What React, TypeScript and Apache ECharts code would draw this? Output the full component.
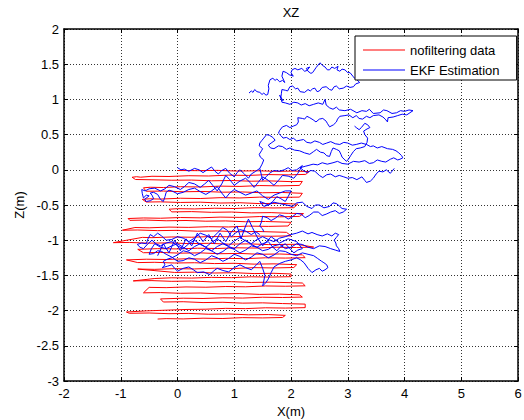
import React, { useEffect, useRef } from 'react';
import * as echarts from 'echarts';

const FONT = '"Liberation Sans", Arial, Helvetica, sans-serif';

const chartTitle = 'XZ';
const xName = 'X(m)';
const yName = 'Z(m)';
const seriesNames = ['nofiltering data', 'EKF Estimation'];
const xRange = [-2, 6];
const yRange = [-3, 2];

// raw (unfiltered) measurement path: [x, z]
const rawPath: number[][] = [
  [0.0,-0.01],[0.35,-0.012],[0.7,-0.008],[1.05,-0.018],[1.4,-0.014],[1.75,-0.022],[2.05,-0.018],[2.32,-0.025],
  [2.26,-0.065],[1.95,-0.072],[1.6,-0.068],[1.25,-0.08],[0.9,-0.076],[0.55,-0.088],[0.2,-0.084],[-0.15,-0.095],[-0.45,-0.092],[-0.65,-0.105],[-0.72,-0.098],[-0.8,-0.106],
  [-0.74,-0.138],[-0.45,-0.142],[-0.1,-0.148],[0.25,-0.146],[0.6,-0.156],[0.95,-0.152],[1.3,-0.162],[1.65,-0.158],[2.0,-0.168],[2.2,-0.165],
  [2.15,-0.222],[1.8,-0.228],[1.45,-0.224],[1.1,-0.236],[0.75,-0.232],[0.4,-0.244],[0.05,-0.24],[-0.25,-0.252],[-0.48,-0.248],[-0.6,-0.256],
  [-0.55,-0.305],[-0.25,-0.302],[0.1,-0.312],[0.45,-0.308],[0.8,-0.318],[1.15,-0.315],[1.5,-0.326],[1.85,-0.322],[2.2,-0.334],
  [2.15,-0.388],[1.8,-0.392],[1.45,-0.388],[1.1,-0.4],[0.75,-0.396],[0.4,-0.408],[0.05,-0.404],[-0.3,-0.416],[-0.5,-0.412],[-0.62,-0.42],
  [-0.55,-0.458],[-0.3,-0.455],[0.05,-0.464],[0.4,-0.46],[0.75,-0.472],[1.1,-0.468],[1.45,-0.48],[1.8,-0.476],[2.12,-0.488],
  [2.05,-0.538],[1.7,-0.542],[1.35,-0.538],[1.0,-0.55],[0.65,-0.546],[0.3,-0.556],[0.0,-0.552],[-0.15,-0.56],
  [-0.1,-0.598],[0.25,-0.594],[0.6,-0.604],[0.95,-0.6],[1.3,-0.612],[1.65,-0.608],[1.95,-0.618],[2.22,-0.622],
  [2.15,-0.662],[1.8,-0.668],[1.45,-0.664],[1.1,-0.676],[0.75,-0.672],[0.4,-0.682],[0.05,-0.678],[-0.3,-0.688],[-0.6,-0.684],[-0.87,-0.692],
  [-0.84,-0.718],[-0.55,-0.714],[-0.2,-0.724],[0.15,-0.72],[0.5,-0.73],[0.85,-0.726],[1.2,-0.738],[1.55,-0.734],[2.0,-0.746],
  [1.95,-0.798],[1.6,-0.804],[1.25,-0.8],[0.9,-0.812],[0.55,-0.808],[0.2,-0.818],[-0.15,-0.814],[-0.5,-0.824],[-0.75,-0.82],
  [-0.97,-0.858],[-0.7,-0.855],[-0.35,-0.864],[0.0,-0.86],[0.35,-0.872],[0.7,-0.868],[1.05,-0.88],[1.4,-0.876],[1.92,-0.888],
  [2.0,-0.938],[1.65,-0.944],[1.3,-0.94],[0.95,-0.952],[0.6,-0.948],[0.25,-0.958],[-0.1,-0.954],[-0.45,-0.964],[-0.62,-0.96],
  [-1.13,-1.035],[-0.85,-1.032],[-0.5,-1.042],[-0.15,-1.038],[0.2,-1.048],[0.55,-1.044],[0.9,-1.056],[1.25,-1.052],[1.6,-1.062],[2.1,-1.058],
  [2.4,-1.098],[2.1,-1.104],[1.75,-1.1],[1.4,-1.112],[1.05,-1.108],[0.7,-1.118],[0.35,-1.114],[0.0,-1.124],[-0.35,-1.12],[-0.7,-1.13],
  [-0.6,-1.178],[-0.3,-1.174],[0.05,-1.184],[0.4,-1.18],[0.75,-1.192],[1.1,-1.188],[1.45,-1.2],[1.8,-1.196],[2.2,-1.208],
  [2.25,-1.248],[1.9,-1.254],[1.55,-1.25],[1.2,-1.262],[0.85,-1.258],[0.5,-1.268],[0.15,-1.264],[-0.2,-1.274],[-0.55,-1.27],[-0.9,-1.28],
  [-0.7,-1.318],[-0.4,-1.314],[-0.05,-1.324],[0.3,-1.32],[0.65,-1.332],[1.0,-1.328],[1.35,-1.34],[1.7,-1.336],[2.1,-1.348],
  [2.05,-1.388],[1.7,-1.394],[1.35,-1.39],[1.0,-1.402],[0.65,-1.398],[0.3,-1.408],[-0.05,-1.404],[-0.4,-1.414],[-0.7,-1.41],
  [-0.05,-1.458],[0.3,-1.454],[0.65,-1.466],[1.0,-1.462],[1.35,-1.474],[1.7,-1.47],[2.0,-1.48],
  [2.0,-1.518],[1.65,-1.524],[1.3,-1.52],[0.95,-1.532],[0.6,-1.528],[0.25,-1.538],[-0.1,-1.534],[-0.4,-1.544],
  [-0.78,-1.578],[-0.45,-1.574],[-0.1,-1.584],[0.25,-1.58],[0.6,-1.592],[0.95,-1.588],[1.3,-1.6],[1.65,-1.596],[2.2,-1.608],
  [2.25,-1.648],[1.9,-1.654],[1.55,-1.65],[1.2,-1.662],[0.85,-1.658],[0.5,-1.668],[0.15,-1.664],[-0.2,-1.674],[-0.5,-1.67],
  [-0.6,-1.748],[-0.3,-1.744],[0.05,-1.754],[0.4,-1.75],[0.75,-1.762],[1.1,-1.758],[1.45,-1.77],[1.8,-1.766],[2.15,-1.776],
  [2.2,-1.808],[1.85,-1.814],[1.5,-1.81],[1.15,-1.822],[0.8,-1.818],[0.45,-1.828],[0.1,-1.824],[-0.3,-1.834],
  [-0.25,-1.878],[0.1,-1.874],[0.45,-1.886],[0.8,-1.882],[1.15,-1.894],[1.5,-1.89],[1.85,-1.9],[2.25,-1.908],
  [2.25,-1.958],[1.9,-1.964],[1.55,-1.96],[1.2,-1.972],[0.85,-1.968],[0.5,-1.98],[0.15,-1.984],[-0.2,-1.994],[-0.55,-2.004],[-0.9,-2.02],
  [-0.85,-2.038],[-0.5,-2.034],[-0.15,-2.044],[0.2,-2.04],[0.55,-2.052],[0.9,-2.048],[1.25,-2.06],[1.6,-2.056],[1.9,-2.068],
  [1.85,-2.098],[1.5,-2.104],[1.15,-2.1],[0.8,-2.112],[0.45,-2.108],[0.1,-2.118],[-0.2,-2.114],[-0.35,-2.12],
];

// EKF estimate, upper excursion
const ekfUpper: number[][] = [
  [1.26,1.09],[1.3,1.12],[1.33,1.1],[1.36,1.14],[1.4,1.11],[1.45,1.1],[1.49,1.07],[1.52,1.09],[1.56,1.06],[1.59,1.07],[1.61,1.15],[1.6,1.2],[1.63,1.28],[1.68,1.3],[1.72,1.27],[1.75,1.29],[1.8,1.25],[1.85,1.27],[1.89,1.24],[1.84,1.33],[1.86,1.4],[1.92,1.38],[1.97,1.35],[2.04,1.33],[2.0,1.38],[2.02,1.42],[2.07,1.44],[2.12,1.42],[2.19,1.44],[2.24,1.4],[2.28,1.41],[2.33,1.46],[2.27,1.44],[2.3,1.4],[2.35,1.37],[2.38,1.38],[2.44,1.45],[2.51,1.52],[2.56,1.48],[2.6,1.46],[2.64,1.42],[2.68,1.42],[2.72,1.46],[2.77,1.44],[2.83,1.47],[2.81,1.42],[2.86,1.4],[2.9,1.43],[2.95,1.42],[3.0,1.38],[3.04,1.38],[3.09,1.33],[3.12,1.3],[3.16,1.28],[3.21,1.24],
  [3.14,1.22],[3.1,1.18],[3.04,1.17],[2.98,1.19],[2.92,1.16],[2.85,1.15],[2.8,1.19],[2.76,1.18],[2.72,1.13],[2.68,1.14],[2.62,1.18],[2.55,1.17],[2.5,1.12],[2.46,1.11],[2.42,1.16],[2.38,1.15],[2.34,1.12],[2.3,1.14],[2.24,1.1],[2.16,1.11],[2.12,1.16],[2.08,1.15],[2.03,1.19],[1.98,1.18],[1.94,1.12],[1.9,1.13],[1.84,1.14],[1.83,1.08],[1.82,1.02],[1.86,0.98],[1.8,1.06],[1.83,1.0],[1.84,0.96],
  [1.9,0.95],[1.98,0.93],[2.05,0.96],[2.12,0.95],[2.18,0.92],[2.25,0.94],[2.32,0.91],[2.4,0.93],[2.48,0.95],[2.56,0.93],[2.6,1.0],[2.62,0.92],[2.68,0.88],[2.74,0.86],[2.8,0.89],[2.85,0.85],[2.95,0.84],[3.05,0.86],[3.16,0.81],[3.25,0.84],[3.33,0.83],[3.38,0.86],[3.45,0.8],[3.57,0.81],[3.63,0.85],[3.69,0.84],[3.78,0.8],[3.86,0.81],[3.93,0.84],[4.0,0.83],[4.08,0.85],[4.15,0.84],
  [4.04,0.78],[3.96,0.79],[3.88,0.77],[3.8,0.75],[3.71,0.74],[3.7,0.68],[3.66,0.72],[3.62,0.75],[3.55,0.78],[3.45,0.77],[3.39,0.74],[3.33,0.76],[3.26,0.72],[3.2,0.73],[3.15,0.77],[3.09,0.74],[3.02,0.78],[2.95,0.77],[2.86,0.76],[2.82,0.72],[2.8,0.68],[2.75,0.64],[2.68,0.61],[2.64,0.66],[2.62,0.69],[2.56,0.73],[2.5,0.72],[2.44,0.68],[2.39,0.71],[2.33,0.74],[2.28,0.76],[2.24,0.72],[2.2,0.73],[2.12,0.74],[2.13,0.68],[2.1,0.64],[2.04,0.62],[1.98,0.6],[1.92,0.63],[1.85,0.61],[1.8,0.56],[1.78,0.52],
  [1.83,0.48],[1.86,0.45],[1.92,0.46],[1.98,0.43],[2.04,0.45],[2.1,0.41],[2.16,0.42],[2.22,0.43],[2.28,0.39],[2.35,0.38],[2.42,0.41],[2.5,0.39],[2.56,0.36],[2.63,0.38],[2.7,0.4],[2.78,0.37],[2.86,0.36],[2.93,0.39],[3.0,0.38],[3.08,0.35],[3.15,0.36],[3.24,0.38],[3.33,0.36],[3.4,0.33],[3.45,0.34],[3.52,0.31],[3.6,0.33],[3.7,0.3],[3.79,0.29],[3.85,0.27],[3.9,0.24],[3.95,0.2],[3.97,0.17],
  [3.92,0.15],[3.88,0.14],[3.81,0.17],[3.75,0.15],[3.67,0.11],[3.6,0.12],[3.52,0.14],[3.45,0.1],[3.38,0.09],[3.3,0.13],[3.2,0.11],[3.1,0.12],[3.0,0.08],[2.9,0.09],[2.82,0.12],[2.74,0.1],[2.64,0.08],[2.55,0.1],[2.47,0.07],[2.39,0.08],[2.3,0.06],[2.25,0.05],[2.16,0.03],
  [2.22,-0.01],[2.28,-0.04],[2.35,-0.01],[2.42,-0.02],[2.5,-0.08],[2.56,-0.11],[2.63,-0.07],[2.7,-0.06],[2.78,-0.1],[2.85,-0.08],[2.93,-0.1],[3.0,-0.12],[3.08,-0.11],[3.16,-0.14],[3.25,-0.1],[3.3,-0.15],[3.33,-0.18],[3.4,-0.16],[3.45,-0.12],[3.5,-0.06],[3.55,-0.02],[3.62,-0.03],[3.68,0.0],[3.75,-0.05],[3.78,-0.02],[3.82,0.02],
];

// EKF estimate, loop between the upper excursion and the start area
const ekfLoop: number[][] = [
  [1.45,0.02],[1.49,0.08],[1.52,0.14],[1.46,0.18],[1.44,0.22],[1.48,0.27],[1.5,0.3],[1.44,0.34],[1.45,0.38],[1.49,0.42],[1.52,0.45],[1.57,0.5],[1.62,0.49],[1.68,0.46],[1.72,0.42],[1.65,0.38],[1.6,0.35],[1.64,0.31],[1.7,0.3],[1.78,0.34],[1.85,0.33],[1.92,0.29],[1.98,0.31],[2.06,0.28],[2.15,0.27],[2.24,0.24],[2.33,0.22],[2.4,0.26],[2.45,0.29],[2.52,0.25],[2.58,0.24],[2.63,0.2],[2.68,0.19],[2.71,0.26],[2.74,0.31],[2.8,0.29],[2.85,0.27],[2.88,0.22],[2.9,0.18],[2.95,0.14],[2.98,0.12],[3.02,0.16],[3.05,0.2],[3.1,0.26],[3.15,0.3],[3.22,0.31],[3.3,0.33],[3.34,0.39],[3.35,0.45],[3.3,0.5],[3.28,0.55],[3.34,0.58],[3.39,0.6],[3.35,0.64],[3.3,0.66],[3.24,0.6],[3.2,0.57],[3.15,0.6],[3.12,0.62],
];

// EKF estimate, upper band near z = 0 .. -0.7
const ekfBand: number[][] = [
  [0.0,0.03],[0.06,0.0],[0.12,0.01],[0.2,-0.02],[0.3,0.02],[0.38,0.0],[0.45,-0.04],[0.52,0.0],[0.6,0.04],[0.66,-0.02],[0.72,-0.06],[0.78,-0.01],[0.85,0.02],[0.92,-0.05],[1.0,-0.1],[1.05,-0.04],[1.1,0.0],[1.18,-0.06],[1.25,-0.12],[1.3,-0.06],[1.38,-0.02],[1.45,0.02],[1.48,-0.08],[1.5,-0.15],[1.56,-0.1],[1.62,-0.05],[1.7,-0.01],[1.8,-0.02],[1.88,0.0],[1.95,0.03],[2.02,-0.01],[2.1,0.0],[2.2,0.06],
  [2.12,-0.05],[2.05,-0.12],[1.95,-0.09],[1.85,-0.08],[1.78,-0.15],[1.7,-0.22],[1.6,-0.15],[1.5,-0.1],[1.42,-0.18],[1.35,-0.25],[1.28,-0.18],[1.2,-0.12],[1.1,-0.16],[1.0,-0.22],[0.92,-0.14],[0.85,-0.08],[0.78,-0.2],[0.7,-0.3],[0.62,-0.22],[0.55,-0.15],[0.48,-0.2],[0.4,-0.25],[0.3,-0.2],[0.2,-0.18],[0.12,-0.24],[0.05,-0.28],[-0.05,-0.24],[-0.15,-0.22],[-0.22,-0.27],[-0.3,-0.3],[-0.4,-0.26],[-0.5,-0.27],[-0.57,-0.3],[-0.63,-0.28],
  [-0.62,-0.34],[-0.6,-0.4],[-0.55,-0.36],[-0.5,-0.37],[-0.58,-0.42],[-0.55,-0.45],[-0.48,-0.44],[-0.42,-0.41],[-0.45,-0.36],[-0.48,-0.33],[-0.42,-0.32],[-0.35,-0.35],[-0.3,-0.42],[-0.25,-0.45],[-0.22,-0.38],[-0.2,-0.32],[-0.15,-0.29],[-0.1,-0.3],[0.0,-0.34],[0.1,-0.32],[0.2,-0.28],[0.3,-0.26],[0.4,-0.31],[0.5,-0.35],[0.6,-0.3],[0.7,-0.24],[0.78,-0.33],[0.85,-0.4],[0.92,-0.33],[1.0,-0.28],[1.1,-0.32],[1.2,-0.36],[1.3,-0.33],[1.4,-0.3],[1.5,-0.37],[1.6,-0.42],[1.7,-0.36],[1.8,-0.33],[1.9,-0.3],[2.0,-0.3],[1.95,-0.38],[1.9,-0.45],[1.82,-0.41],[1.75,-0.38],[1.68,-0.45],[1.6,-0.5],[1.52,-0.47],[1.45,-0.45],
  [1.52,-0.52],[1.6,-0.5],[1.7,-0.46],[1.8,-0.48],[1.92,-0.5],[2.03,-0.52],[2.1,-0.47],[2.2,-0.46],[2.28,-0.52],[2.37,-0.55],[2.43,-0.5],[2.5,-0.5],[2.58,-0.54],[2.68,-0.52],[2.74,-0.47],[2.8,-0.48],[2.86,-0.52],[2.9,-0.55],[2.98,-0.56],[2.92,-0.6],[2.85,-0.62],[2.78,-0.58],[2.7,-0.6],[2.62,-0.63],[2.55,-0.65],[2.48,-0.6],[2.4,-0.6],[2.32,-0.65],[2.25,-0.68],[2.18,-0.63],[2.1,-0.62],[2.02,-0.67],[1.95,-0.7],[1.88,-0.66],[1.8,-0.64],[1.72,-0.69],[1.65,-0.72],[1.58,-0.68],[1.5,-0.66],[1.48,-0.74],[1.45,-0.8],[1.5,-0.84],[1.52,-0.88],
];

// EKF estimate, dense cluster around z = -1
const ekfCluster: number[][] = [
  [1.45,-0.92],[1.38,-0.88],[1.3,-0.92],[1.2,-0.87],[1.1,-0.85],[1.02,-0.9],[0.95,-0.95],[0.88,-0.86],[0.8,-0.82],[0.7,-0.9],[0.6,-0.98],[0.5,-0.93],[0.4,-0.9],[0.3,-0.97],[0.2,-1.02],[0.1,-0.97],[0.0,-0.95],[-0.1,-0.99],[-0.2,-1.0],[-0.28,-0.94],[-0.35,-0.9],[-0.42,-0.95],[-0.48,-0.92],[-0.52,-0.98],[-0.55,-1.05],[-0.63,-1.04],[-0.71,-1.06],[-0.66,-1.1],[-0.6,-1.12],[-0.52,-1.05],[-0.45,-1.0],[-0.38,-1.05],[-0.3,-1.08],[-0.2,-1.04],[-0.1,-1.02],[0.0,-1.08],[0.1,-1.12],[0.2,-1.05],[0.3,-1.0],[0.4,-1.06],[0.5,-1.1],[0.6,-1.03],[0.7,-0.98],[0.8,-1.04],[0.9,-1.08],[1.0,-1.01],[1.1,-0.96],[1.2,-1.01],[1.3,-1.05],[1.4,-0.99],[1.5,-0.95],[1.6,-0.99],[1.7,-1.02],[1.8,-0.97],[1.9,-0.95],[2.0,-0.92],[2.1,-0.9],
  [2.2,-0.87],[2.3,-0.91],[2.37,-0.89],[2.46,-0.92],[2.55,-0.94],[2.64,-0.91],[2.72,-0.94],[2.78,-0.9],[2.84,-0.92],[2.8,-0.96],[2.76,-1.0],[2.79,-1.04],[2.8,-1.08],[2.84,-1.12],[2.86,-1.16],[2.78,-1.14],[2.7,-1.12],[2.6,-1.09],[2.5,-1.08],[2.4,-1.12],[2.3,-1.1],[2.2,-1.06],[2.1,-1.05],[2.0,-1.1],[1.9,-1.12],[1.8,-1.06],[1.7,-1.08],[1.6,-1.13],[1.5,-1.15],[1.4,-1.1],[1.3,-1.08],[1.2,-1.14],[1.1,-1.18],[1.0,-1.13],[0.9,-1.1],[0.8,-1.16],[0.7,-1.2],[0.6,-1.15],[0.5,-1.12],[0.4,-1.18],[0.3,-1.22],[0.2,-1.17],[0.1,-1.15],[0.0,-1.21],[-0.1,-1.25],[-0.18,-1.27],[-0.25,-1.3],[-0.22,-1.35],[-0.27,-1.39],
  [-0.18,-1.37],[-0.1,-1.35],[-0.05,-1.4],[0.0,-1.44],[0.1,-1.4],[0.2,-1.38],[0.28,-1.42],[0.35,-1.46],[0.46,-1.45],[0.57,-1.49],[0.63,-1.44],[0.7,-1.4],[0.8,-1.43],[0.9,-1.45],[1.0,-1.39],[1.1,-1.35],[1.2,-1.39],[1.3,-1.42],[1.38,-1.36],[1.45,-1.3],[1.5,-1.4],[1.54,-1.5],[1.52,-1.58],[1.5,-1.65],[1.56,-1.6],[1.6,-1.55],[1.65,-1.46],[1.7,-1.38],[1.8,-1.33],[1.9,-1.3],[2.0,-1.28],[2.1,-1.25],[2.17,-1.28],[2.23,-1.32],[2.3,-1.4],[2.37,-1.46],[2.44,-1.42],[2.5,-1.4],[2.55,-1.44],[2.6,-1.42],[2.65,-1.39],[2.63,-1.35],[2.58,-1.32],[2.54,-1.3],[2.47,-1.26],[2.4,-1.22],
  [2.3,-1.2],[2.2,-1.18],[2.1,-1.22],[2.0,-1.2],[1.9,-1.16],[1.8,-1.15],[1.7,-1.21],[1.6,-1.25],[1.5,-1.2],[1.4,-1.18],[1.3,-1.24],[1.2,-1.28],[1.1,-1.23],[1.0,-1.2],[0.9,-1.26],[0.8,-1.3],[0.7,-1.25],[0.6,-1.22],[0.5,-1.28],[0.4,-1.32],[0.3,-1.27],[0.2,-1.25],[0.1,-1.29],[0.0,-1.3],[-0.1,-1.24],[-0.2,-1.2],[-0.28,-1.16],[-0.35,-1.15],[-0.42,-1.19],[-0.5,-1.2],[-0.46,-1.12],[-0.4,-1.05],[-0.3,-1.1],[-0.2,-1.12],[-0.1,-1.08],[0.0,-1.05],[0.1,-1.1],[0.2,-1.15],[0.3,-1.09],[0.4,-1.05],[0.5,-1.1],[0.6,-1.15],[0.7,-1.09],[0.8,-1.05],[0.9,-1.09],[1.0,-1.12],[1.1,-1.05],[1.2,-1.0],[1.3,-1.06],[1.4,-1.1],[1.5,-1.05],[1.6,-1.02],[1.68,-1.1],[1.75,-1.15],[1.82,-1.09],[1.9,-1.05],[1.98,-1.12],[2.05,-1.18],[2.12,-1.14],[2.2,-1.12],
  [2.1,-1.02],[1.95,-0.98],[1.8,-1.04],[1.65,-0.95],[1.5,-1.08],[1.4,-0.95],[1.32,-0.82],[1.25,-0.7],[1.18,-0.84],[1.12,-0.98],[1.05,-0.8],[0.95,-0.88],[0.85,-1.02],[0.75,-0.9],[0.65,-1.05],[0.55,-0.92],[0.45,-1.02],[0.35,-0.9],[0.25,-1.08],[0.15,-0.98],[0.05,-1.15],[-0.05,-1.0],[-0.15,-1.18],[-0.25,-1.05],[-0.35,-1.22],
];

const RED = '#ff0000';
const BLUE = '#0000ff';

function lineSeries(name: string, data: number[][], color: string) {
  return {
    type: 'line',
    name,
    data,
    showSymbol: false,
    symbol: 'none',
    color,
    itemStyle: { color },
    lineStyle: { color, width: 1 },
    silent: true,
    z: color === BLUE ? 3 : 2,
  };
}

export default function App() {
  const ref = useRef<HTMLDivElement>(null);
  useEffect(() => {
    const chart = echarts.init(ref.current!, null, { renderer: 'svg' });
    const axisLine = { show: true, onZero: false, lineStyle: { color: '#000', width: 1.5 } };
    const tick = { show: true, inside: true, length: 4, lineStyle: { color: '#000', width: 1 } };
    const grid = { show: true, lineStyle: { color: '#333', width: 1, type: [1, 2] } };
    const label = { color: '#000', fontSize: 13, fontFamily: FONT };
    chart.setOption({
      animation: false,
      backgroundColor: '#fff',
      title: {
        text: chartTitle,
        left: 291,
        top: 6,
        padding: 0,
        textAlign: 'center',
        textStyle: { fontSize: 13, fontWeight: 'normal', color: '#000', fontFamily: FONT },
      },
      legend: {
        data: seriesNames,
        orient: 'vertical',
        left: 355,
        top: 36,
        padding: [7, 17, 3, 8],
        icon: 'rect',
        itemWidth: 42,
        itemHeight: 1,
        itemGap: 6,
        backgroundColor: '#fff',
        borderColor: '#000',
        borderWidth: 1,
        borderRadius: 0,
        selectedMode: false,
        textStyle: { fontSize: 13, color: '#000', fontFamily: FONT, lineHeight: 14 },
      },
      grid: { left: 64, right: 6, top: 29, bottom: 39, containLabel: false, outerBoundsMode: 'none' },
      xAxis: [
        {
          type: 'value', min: xRange[0], max: xRange[1], interval: 1, position: 'bottom',
          name: xName, nameLocation: 'middle', nameGap: 23,
          nameTextStyle: { fontSize: 13, color: '#000', fontFamily: FONT },
          axisLine, axisTick: tick, splitLine: grid,
          axisLabel: { ...label, margin: 6 },
        },
        {
          type: 'value', min: xRange[0], max: xRange[1], interval: 1, position: 'top',
          axisLine, axisTick: tick, splitLine: { show: false }, axisLabel: { show: false },
        },
      ],
      yAxis: [
        {
          type: 'value', min: yRange[0], max: yRange[1], interval: 0.5, position: 'left',
          name: yName, nameLocation: 'middle', nameGap: 37, nameRotate: 90,
          nameTextStyle: { fontSize: 13, color: '#000', fontFamily: FONT },
          axisLine, axisTick: tick, splitLine: grid,
          axisLabel: { ...label, margin: 5 },
        },
        {
          type: 'value', min: yRange[0], max: yRange[1], interval: 0.5, position: 'right',
          axisLine, axisTick: tick, splitLine: { show: false }, axisLabel: { show: false },
        },
      ],
      series: [
        lineSeries(seriesNames[0], rawPath, RED),
        lineSeries(seriesNames[1], ekfUpper, BLUE),
        lineSeries(seriesNames[1], ekfLoop, BLUE),
        lineSeries(seriesNames[1], ekfBand, BLUE),
        lineSeries(seriesNames[1], ekfCluster, BLUE),
      ],
    });
    return () => chart.dispose();
  }, []);
  return (
    <div
      ref={ref}
      style={{ position: 'absolute', left: 0, top: 0, width: 524, height: 420, background: '#fff' }}
    />
  );
}
